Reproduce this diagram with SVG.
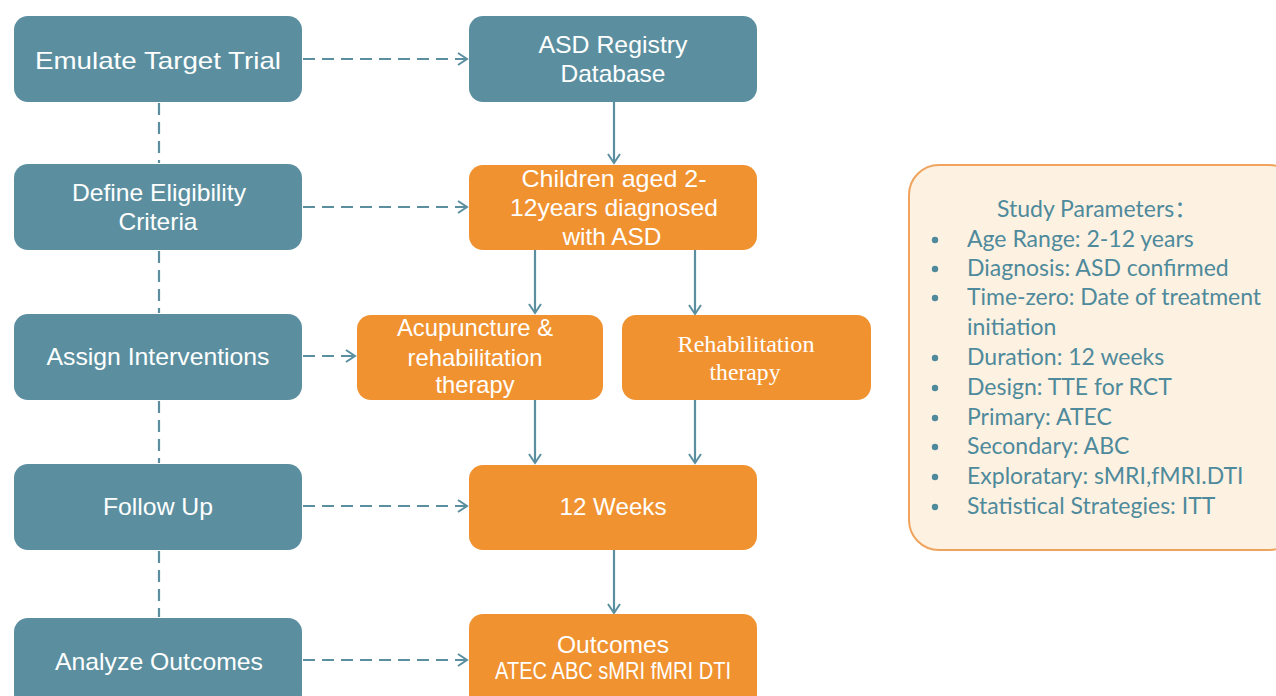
<svg xmlns="http://www.w3.org/2000/svg" width="1276" height="696" viewBox="0 0 1276 696">
<style>
.t{fill:#5B8FA0}
.o{fill:#F0922F}
.lbl{font-family:"Liberation Sans",Arial,sans-serif;font-size:24px;fill:#fff;text-anchor:middle}
.ser{font-family:"Liberation Serif","Times New Roman",serif;font-size:24px;fill:#fff;text-anchor:middle}
.dash{stroke:#5B8FA0;stroke-width:2.2;stroke-dasharray:12 7;fill:none}
.sol{stroke:#5B8FA0;stroke-width:2.2;fill:none}
.p{font-family:Lato,"Noto Sans CJK SC",sans-serif;font-size:23px;fill:#4E8A9B}
</style>
<defs>
<marker id="ah" markerUnits="userSpaceOnUse" markerWidth="16" markerHeight="16" refX="12" refY="7" orient="auto">
<polyline points="3,1 12,7 3,13" fill="none" stroke="#5B8FA0" stroke-width="2"/>
</marker>
</defs>
<rect width="1276" height="696" fill="#fff"/>
<g id="connectors">
<line class="dash" x1="303" y1="59" x2="467" y2="59" marker-end="url(#ah)"/>
<line class="dash" x1="303" y1="207" x2="467" y2="207" marker-end="url(#ah)"/>
<line class="dash" x1="303" y1="356" x2="355" y2="356" marker-end="url(#ah)"/>
<line class="dash" x1="303" y1="506" x2="467" y2="506" marker-end="url(#ah)"/>
<line class="dash" x1="303" y1="660" x2="467" y2="660" marker-end="url(#ah)"/>
<line class="dash" x1="159" y1="103" x2="159" y2="163"/>
<line class="dash" x1="159" y1="251" x2="159" y2="313"/>
<line class="dash" x1="159" y1="401" x2="159" y2="463"/>
<line class="dash" x1="159" y1="551" x2="159" y2="617"/>
<line class="sol" x1="614" y1="101" x2="614" y2="163" marker-end="url(#ah)"/>
<line class="sol" x1="535" y1="250" x2="535" y2="313" marker-end="url(#ah)"/>
<line class="sol" x1="695" y1="250" x2="695" y2="314" marker-end="url(#ah)"/>
<line class="sol" x1="535" y1="400" x2="535" y2="463" marker-end="url(#ah)"/>
<line class="sol" x1="695" y1="400" x2="695" y2="463" marker-end="url(#ah)"/>
<line class="sol" x1="614" y1="550" x2="614" y2="613" marker-end="url(#ah)"/>
</g>
<g id="emulate"><rect class="t" x="14" y="16" width="288" height="86" rx="14"/><text class="lbl" x="158" y="69" font-size="27" textLength="246" lengthAdjust="spacingAndGlyphs">Emulate Target Trial</text></g>
<g id="define"><rect class="t" x="14" y="164" width="288" height="86" rx="14"/><text class="lbl" x="159" y="201" textLength="174" lengthAdjust="spacingAndGlyphs">Define Eligibility</text><text class="lbl" x="158" y="230" textLength="79" lengthAdjust="spacingAndGlyphs">Criteria</text></g>
<g id="assign"><rect class="t" x="14" y="314" width="288" height="86" rx="14"/><text class="lbl" x="158" y="365" textLength="223" lengthAdjust="spacingAndGlyphs">Assign Interventions</text></g>
<g id="follow"><rect class="t" x="14" y="464" width="288" height="86" rx="14"/><text class="lbl" x="158" y="515" textLength="110" lengthAdjust="spacingAndGlyphs">Follow Up</text></g>
<g id="analyze"><rect class="t" x="14" y="618" width="288" height="90" rx="14"/><text class="lbl" x="159" y="670" textLength="208" lengthAdjust="spacingAndGlyphs">Analyze Outcomes</text></g>
<g id="registry"><rect class="t" x="469" y="16" width="288" height="86" rx="14"/><text class="lbl" x="613" y="53" textLength="149" lengthAdjust="spacingAndGlyphs">ASD Registry</text><text class="lbl" x="613" y="82" textLength="105" lengthAdjust="spacingAndGlyphs">Database</text></g>
<g id="children"><rect class="o" x="469" y="165" width="288" height="85" rx="14"/><text class="lbl" x="614" y="187" textLength="185" lengthAdjust="spacingAndGlyphs">Children aged 2-</text><text class="lbl" x="614" y="216" textLength="208" lengthAdjust="spacingAndGlyphs">12years diagnosed</text><text class="lbl" x="612" y="245" textLength="99" lengthAdjust="spacingAndGlyphs">with ASD</text></g>
<g id="acup"><rect class="o" x="357" y="315" width="246" height="85" rx="14"/><text class="lbl" x="475" y="336" textLength="156" lengthAdjust="spacingAndGlyphs">Acupuncture &amp;</text><text class="lbl" x="475" y="366" textLength="135" lengthAdjust="spacingAndGlyphs">rehabilitation</text><text class="lbl" x="475" y="393" textLength="79" lengthAdjust="spacingAndGlyphs">therapy</text></g>
<g id="rehab"><rect class="o" x="622" y="315" width="249" height="85" rx="14"/><text class="ser" x="746" y="352" textLength="137" lengthAdjust="spacingAndGlyphs">Rehabilitation</text><text class="ser" x="745" y="380" textLength="71" lengthAdjust="spacingAndGlyphs">therapy</text></g>
<g id="weeks"><rect class="o" x="469" y="465" width="288" height="85" rx="14"/><text class="lbl" x="613" y="515" textLength="107" lengthAdjust="spacingAndGlyphs">12 Weeks</text></g>
<g id="outcomes"><rect class="o" x="469" y="614" width="288" height="94" rx="14"/><text class="lbl" x="613" y="653" textLength="112" lengthAdjust="spacingAndGlyphs">Outcomes</text><text class="lbl" x="613" y="679" font-size="19" textLength="236" lengthAdjust="spacingAndGlyphs">ATEC ABC sMRI fMRI DTI</text></g>
<g id="params">
<rect x="909" y="165" width="390" height="385" rx="30" fill="#FDF1E2" stroke="#EFA35C" stroke-width="2"/>
<text class="p" x="997" y="217">Study Parameters：</text>
<g class="p">
<text x="967" y="247">Age Range: 2-12 years</text>
<text x="967" y="276">Diagnosis: ASD confirmed</text>
<text x="967" y="305">Time-zero: Date of treatment</text>
<text x="967" y="335">initiation</text>
<text x="967" y="365">Duration: 12 weeks</text>
<text x="967" y="395">Design: TTE for RCT</text>
<text x="967" y="425">Primary: ATEC</text>
<text x="967" y="454">Secondary: ABC</text>
<text x="967" y="484">Exploratary: sMRI,fMRI.DTI</text>
<text x="967" y="514">Statistical Strategies: ITT</text>
</g>
<g fill="#4E8A9B">
<circle cx="935" cy="240" r="3.2"/><circle cx="935" cy="269" r="3.2"/><circle cx="935" cy="298" r="3.2"/><circle cx="935" cy="358" r="3.2"/><circle cx="935" cy="388" r="3.2"/><circle cx="935" cy="418" r="3.2"/><circle cx="935" cy="447" r="3.2"/><circle cx="935" cy="477" r="3.2"/><circle cx="935" cy="507" r="3.2"/>
</g>
</g>
</svg>
